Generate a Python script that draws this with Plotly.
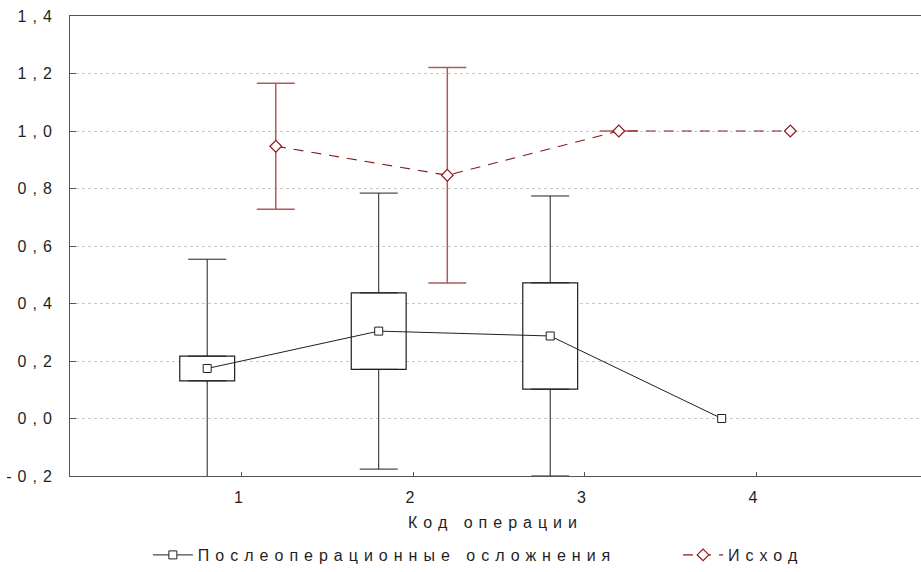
import plotly.graph_objects as go

# Operation codes on the x axis
codes = [1, 2, 3, 4]

# Postoperative complications: mean, standard error (box), standard deviation (whiskers)
compl_mean = [0.174, 0.304, 0.287, 0.0]
compl_se = [0.043, 0.133, 0.185, None]
compl_sd = [0.38, 0.48, 0.487, None]

# Outcome: mean and error-bar half length
outcome_mean = [0.947, 0.846, 1.0, 1.0]
outcome_err = [0.219, 0.375, 0.0, None]

y_ticks = [-0.2, 0.0, 0.2, 0.4, 0.6, 0.8, 1.0, 1.2, 1.4]
y_tick_text = ["-0,2", "0,0", "0,2", "0,4", "0,6", "0,8", "1,0", "1,2", "1,4"]
x_tick_text = ["1", "2", "3", "4"]

SHIFT = 0.2
BLACK = "#1f1f1f"
RED = "#8b1a1a"
RED_ERR = "#b05a5a"
FONT = "Liberation Sans, Arial, sans-serif"

x_compl = [c - SHIFT for c in codes]
x_out = [c + SHIFT for c in codes]

fig = go.Figure()

# Boxes: mean +/- SE
idx_box = [i for i, s in enumerate(compl_se) if s is not None]
fig.add_trace(go.Bar(
    x=[x_compl[i] for i in idx_box],
    base=[compl_mean[i] - compl_se[i] for i in idx_box],
    y=[2 * compl_se[i] for i in idx_box],
    width=0.32,
    marker=dict(color="white", line=dict(color=BLACK, width=1.2)),
    showlegend=False, hoverinfo="skip",
))

# Whiskers: from box edges out to mean +/- SD
fig.add_trace(go.Scatter(
    x=[x_compl[i] for i in idx_box],
    y=[compl_mean[i] + compl_se[i] for i in idx_box],
    mode="markers", marker=dict(size=1, color="rgba(0,0,0,0)"),
    error_y=dict(type="data", symmetric=False,
                 array=[compl_sd[i] - compl_se[i] for i in idx_box],
                 arrayminus=[0 for _ in idx_box],
                 color=BLACK, thickness=1, width=19),
    showlegend=False, hoverinfo="skip",
))
fig.add_trace(go.Scatter(
    x=[x_compl[i] for i in idx_box],
    y=[compl_mean[i] - compl_se[i] for i in idx_box],
    mode="markers", marker=dict(size=1, color="rgba(0,0,0,0)"),
    error_y=dict(type="data", symmetric=False,
                 array=[0 for _ in idx_box],
                 arrayminus=[compl_sd[i] - compl_se[i] for i in idx_box],
                 color=BLACK, thickness=1, width=19),
    showlegend=False, hoverinfo="skip",
))

# Mean line for complications
fig.add_trace(go.Scatter(
    x=x_compl, y=compl_mean,
    mode="lines+markers",
    name="Послеоперационные осложнения",
    line=dict(color=BLACK, width=1),
    marker=dict(symbol="square", size=8, color="white",
                line=dict(color=BLACK, width=1)),
    legend="legend",
))

# Outcome error bars (only where defined)
idx_err = [i for i, e in enumerate(outcome_err) if e is not None]
fig.add_trace(go.Scatter(
    x=[x_out[i] for i in idx_err],
    y=[outcome_mean[i] for i in idx_err],
    mode="markers", marker=dict(size=1, color="rgba(0,0,0,0)"),
    error_y=dict(type="data", array=[outcome_err[i] for i in idx_err],
                 color=RED_ERR, thickness=1.5, width=19),
    showlegend=False, hoverinfo="skip",
))

# Outcome mean line
fig.add_trace(go.Scatter(
    x=x_out, y=outcome_mean,
    mode="lines+markers",
    name="Исход",
    line=dict(color=RED, width=1.2, dash="10px,8px"),
    marker=dict(symbol="diamond", size=9, color="white",
                line=dict(color=RED, width=1.2)),
    legend="legend2",
))

legend_common = dict(
    orientation="h", yanchor="middle", y=-0.172, xanchor="left",
    bgcolor="rgba(0,0,0,0)", itemwidth=40, entrywidthmode="pixels",
    font=dict(family=FONT, size=16, color=BLACK),
)

fig.update_layout(
    width=921, height=572,
    margin=dict(l=70, r=0, t=16, b=96),
    paper_bgcolor="white", plot_bgcolor="white",
    font=dict(family=FONT, size=16, color=BLACK),
    barmode="overlay",
    legend=dict(x=0.0915, entrywidth=480, **legend_common),
    legend2=dict(x=0.7145, entrywidth=160, **legend_common),
    xaxis=dict(
        range=[0, 4.962],
        tickvals=codes, ticktext=x_tick_text,
        ticks="inside", ticklen=4, tickcolor="#555",
        showline=True, linecolor="#555", linewidth=1, mirror=True,
        showgrid=False, zeroline=False,
        ticklabelstandoff=7,
        title=dict(text="Код операции", standoff=11,
                   font=dict(family=FONT, size=16, color=BLACK)),
    ),
    yaxis=dict(
        range=[-0.2, 1.4],
        tickvals=y_ticks, ticktext=y_tick_text,
        ticks="inside", ticklen=6, tickcolor="#555",
        showline=True, linecolor="#555", linewidth=1,
        showgrid=True, gridcolor="#c8c8c8", griddash="dot", gridwidth=1,
        zeroline=False,
        ticklabelstandoff=8,
    ),
)

# Wide letter tracking for all chart text
tracking_js = (
    "var s=document.createElement('style');"
    "s.textContent='.main-svg text{letter-spacing:6px}';"
    "document.head.appendChild(s);"
)

fig.write_html("out.html", post_script=tracking_js)
